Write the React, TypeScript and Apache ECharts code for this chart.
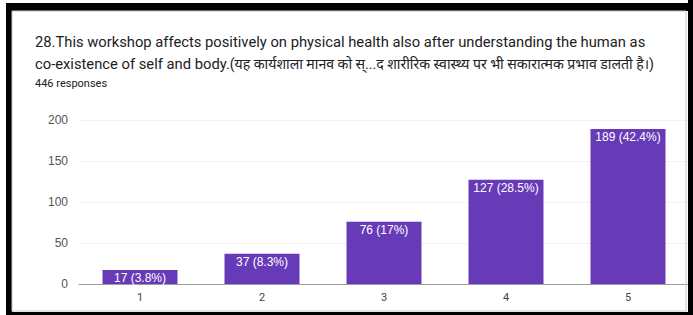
import React, { useEffect, useRef } from "react";
import * as echarts from "echarts";

const categories = ["1", "2", "3", "4", "5"];
const counts = [17, 37, 76, 127, 189];
const percents = ["3.8%", "8.3%", "17%", "28.5%", "42.4%"];
const yTicks = [0, 50, 100, 150, 200];
const titleLine1 =
  "28.This workshop affects positively on physical health also after understanding the human as";
const titleLine2a = "co-existence of self and body.";
const titleLine2b =
  "(यह कार्यशाला मानव को स्...द शारीरिक स्वास्थ्य पर भी सकारात्मक प्रभाव डालती है।)";
const subtitle = "446 responses";

export default function App() {
  const ref = useRef<HTMLDivElement>(null);
  useEffect(() => {
    if (!ref.current) return;
    const chart = echarts.init(ref.current, null, { renderer: "svg" });
    const font = "Roboto, 'Noto Sans', sans-serif";
    chart.setOption({
      animation: false,
      backgroundColor: "#ffffff",
      grid: { left: 79, top: 120, width: 610, height: 164 },
      xAxis: {
        type: "category",
        data: categories,
        axisLine: { lineStyle: { color: "#9e9e9e", width: 1 } },
        axisTick: { show: false },
        axisLabel: { color: "#444", fontSize: 11, fontFamily: "Roboto, Arial", margin: 8 },
      },
      yAxis: {
        type: "value",
        min: yTicks[0],
        max: yTicks[yTicks.length - 1],
        interval: 50,
        axisLine: { show: false },
        axisTick: { show: false },
        splitLine: { lineStyle: { color: "#f2f2f2" } },
        axisLabel: { color: "#555", fontSize: 12, fontFamily: "Arial, Liberation Sans", margin: 11 },
      },
      series: [
        {
          type: "bar",
          data: counts,
          barWidth: 75,
          itemStyle: { color: "#673ab7" },
          label: {
            show: true,
            position: "insideTop",
            distance: 2,
            color: "#ffffff",
            fontSize: 12,
            fontFamily: "Arial, Liberation Sans",
            formatter: (p: any) => `${p.value} (${percents[p.dataIndex]})`,
          },
        },
      ],
      graphic: [
        {
          type: "text",
          left: 35,
          top: 34,
          style: {
            text: titleLine1,
            fill: "#202124",
            fontSize: 14.75,
            fontFamily: font,
          },
        },
        {
          type: "text",
          left: 35,
          top: 56,
          style: {
            text: `{a|${titleLine2a}}{h|${titleLine2b}}`,
            fill: "#202124",
            fontFamily: font,
            rich: {
              a: { fontSize: 14.75, fontFamily: font, fill: "#202124", lineHeight: 20 },
              h: { fontSize: 14.1, fontFamily: font, fill: "#202124", lineHeight: 20 },
            },
          },
        },
        {
          type: "text",
          left: 35,
          top: 78,
          style: {
            text: subtitle,
            fill: "#202124",
            fontSize: 11,
            fontFamily: font,
          },
        },
        { type: "rect", z: 100, shape: { x: 6, y: 3, width: 687, height: 8 }, style: { fill: "#000" } },
        { type: "rect", z: 100, shape: { x: 6, y: 3, width: 6, height: 312 }, style: { fill: "#000" } },
        { type: "rect", z: 100, shape: { x: 688, y: 0, width: 5, height: 315 }, style: { fill: "#000" } },
        { type: "rect", z: 100, shape: { x: 6, y: 312, width: 687, height: 3 }, style: { fill: "#000" } },
        { type: "rect", z: 100, shape: { x: 12, y: 11, width: 674, height: 300 }, style: { fill: "none", stroke: "#c8c8c8", lineWidth: 1 } },
      ],
    });
    return () => chart.dispose();
  }, []);
  return (
    <div
      ref={ref}
      style={{ position: "fixed", left: 0, top: 0, width: 693, height: 315 }}
    />
  );
}
